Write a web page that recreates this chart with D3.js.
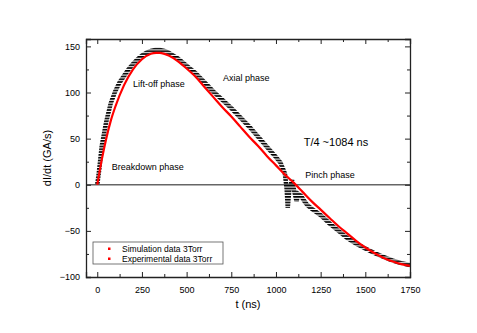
<!DOCTYPE html>
<html>
<head>
<meta charset="utf-8">
<script src="https://cdn.jsdelivr.net/npm/d3@7"></script>
<style>
  body { margin: 0; background: #fff; }
  text { font-family: "Liberation Sans", Arial, sans-serif; fill: #000; }
</style>
</head>
<body>
<div id="chart"></div>
<script>
// Simulation (red) values
var simT = [0, 25, 50, 75, 100, 150, 200, 250, 300, 330, 350, 400, 450, 500, 550, 600, 650, 700, 750, 800,
  850, 900, 950, 1000, 1050, 1100, 1150, 1200, 1250, 1300, 1350, 1400, 1450, 1500, 1550, 1600, 1650, 1700, 1750]
var simV = [0, 27, 50, 69, 84, 108, 125, 136, 142, 143, 143, 140, 134, 126, 117, 106, 95, 84, 74, 63,
  52, 42, 31, 21, 11, 2, -8, -18, -27, -36, -45, -53, -61, -68, -74, -79, -83, -86, -88]

// Experimental (black) values
var expT = [0, 10, 25, 50, 75, 100, 125, 150, 175, 200, 225, 250, 275, 300, 325, 350, 375, 400, 425, 450,
  475, 500, 525, 550, 600, 650, 700, 750, 800, 850, 900, 950, 1000, 1025, 1050, 1060, 1066, 1075, 1090, 1100,
  1115, 1125, 1140, 1160, 1175, 1200, 1250, 1300, 1350, 1400, 1450, 1500, 1550, 1600, 1650, 1700, 1750]
var expV = [0, 15, 42, 68, 88, 101, 111, 118, 125, 131, 136, 140, 143, 145, 146, 146, 145, 143, 140, 137,
  133, 129, 125, 121, 111, 101, 92, 83, 73, 63, 52, 41, 30, 24, 12, -5, -25, -5, 5, -5,
  -18, -10, -12, -18, -22, -26, -33, -42, -50, -58, -64, -69, -74, -78, -82, -85, -87]

var xTicks = [0, 250, 500, 750, 1000, 1250, 1500, 1750]
var yTicks = [-100, -50, 0, 50, 100, 150]
var legendLabels = ['Simulation data 3Torr', 'Experimental data 3Torr']
var phaseLabels = ['Breakdown phase', 'Lift-off phase', 'Axial phase', 'Pinch phase', 'T/4 ~1084 ns']

var width = 477, height = 333
var margin = {top: 39, right: 67, bottom: 56, left: 86}

var svg = d3.select('#chart').append('svg')
    .attr('width', width)
    .attr('height', height)

// horizontal stripes, so the thick experimental trace reads as stacked short dashes
var pat = svg.append('defs').append('pattern')
    .attr('id', 'hstripes')
    .attr('patternUnits', 'userSpaceOnUse')
    .attr('width', 6).attr('height', 2.8)
pat.append('rect')
    .attr('width', 6).attr('height', 1.7)
    .attr('fill', '#000')

var x = d3.scaleLinear()
    .domain([-63, 1750])
    .range([margin.left, width - margin.right])

var y = d3.scaleLinear()
    .domain([-100, 158])
    .range([height - margin.bottom, margin.top])

var simData = simT.map((t, i) => ({t: t, v: simV[i]}))
var expData = expT.map((t, i) => ({t: t, v: expV[i]}))

// zero line
svg.append('line')
    .attr('x1', x.range()[0]).attr('x2', x.range()[1])
    .attr('y1', y(0)).attr('y2', y(0))
    .attr('stroke', '#666')
    .attr('stroke-width', 1.5)

// experimental data
svg.append('path')
    .datum(expData)
    .attr('d', d3.line().x(d => x(d.t)).y(d => y(d.v)))
    .attr('fill', 'none')
    .attr('stroke', 'url(#hstripes)')
    .attr('stroke-width', 4.5)

// simulation curve
svg.append('path')
    .datum(simData)
    .attr('d', d3.line().x(d => x(d.t)).y(d => y(d.v)).curve(d3.curveMonotoneX))
    .attr('fill', 'none')
    .attr('stroke', '#ff0000')
    .attr('stroke-width', 2.2)

// axes with inward ticks, minor ticks in between
var minorX = d3.range(125, 1750, 250)
var minorY = d3.range(-75, 158, 50)

function drawAxis(axis, major, minor, transform) {
  var g = svg.append('g').attr('transform', transform)
  g.call(axis.tickValues(major).tickSize(-5).tickFormat(d3.format('d')))
  var g2 = svg.append('g').attr('transform', transform)
  g2.call(axis.tickValues(minor).tickSize(-3).tickFormat(''))
  g2.select('.domain').remove()
  return g
}

var gB = drawAxis(d3.axisBottom(x), xTicks, minorX, 'translate(0,' + y.range()[0] + ')')
var gT = drawAxis(d3.axisTop(x), xTicks, minorX, 'translate(0,' + y.range()[1] + ')')
var gL = drawAxis(d3.axisLeft(y), yTicks, minorY, 'translate(' + x.range()[0] + ',0)')
var gR = drawAxis(d3.axisRight(y), yTicks, minorY, 'translate(' + x.range()[1] + ',0)')
gT.selectAll('text').remove()
gR.selectAll('text').remove()

svg.selectAll('.domain').attr('stroke', '#222').attr('stroke-width', 1.3)
svg.selectAll('.tick line').attr('stroke', '#222')
svg.selectAll('.tick text')
    .style('font-family', '"Liberation Sans", Arial, sans-serif')
    .attr('font-size', 9)
    .attr('fill', '#222')
gB.selectAll('.tick text').attr('y', 10)
gL.selectAll('.tick text').attr('x', -6)

// axis titles
svg.append('text')
    .attr('x', (x.range()[0] + x.range()[1]) / 2)
    .attr('y', 308)
    .attr('text-anchor', 'middle')
    .attr('font-size', 11)
    .text('t (ns)')

svg.append('text')
    .attr('transform', 'translate(51,' + ((y.range()[0] + y.range()[1]) / 2) + ') rotate(-90)')
    .attr('text-anchor', 'middle')
    .attr('font-size', 11)
    .text('dI/dt (GA/s)')

// phase annotations, anchored in data units
var phasePos = [[81, 16], [200, 106], [703, 112], [1164, 7], [1155, 42]]
var phaseSize = [9, 9, 9, 9, 11]
svg.selectAll('.phase')
    .data(phaseLabels)
  .enter().append('text')
    .attr('class', 'phase')
    .attr('x', (d, i) => x(phasePos[i][0]))
    .attr('y', (d, i) => y(phasePos[i][1]))
    .attr('font-size', (d, i) => phaseSize[i])
    .text(d => d)

// legend
var legend = svg.append('g').attr('transform', 'translate(93,242)')
legend.append('rect')
    .attr('width', 130).attr('height', 22)
    .attr('fill', '#fff')
    .attr('stroke', '#555')
    .attr('stroke-width', 0.8)
var item = legend.selectAll('.item')
    .data(legendLabels)
  .enter().append('g')
    .attr('transform', (d, i) => 'translate(0,' + (7 + i * 10) + ')')
item.append('rect')
    .attr('x', 15).attr('y', -1.5)
    .attr('width', 2.5).attr('height', 2.5)
    .attr('fill', '#ff0000')
item.append('text')
    .attr('x', 29).attr('y', 3)
    .attr('font-size', 8.5)
    .text(d => d)
</script>
</body>
</html>
